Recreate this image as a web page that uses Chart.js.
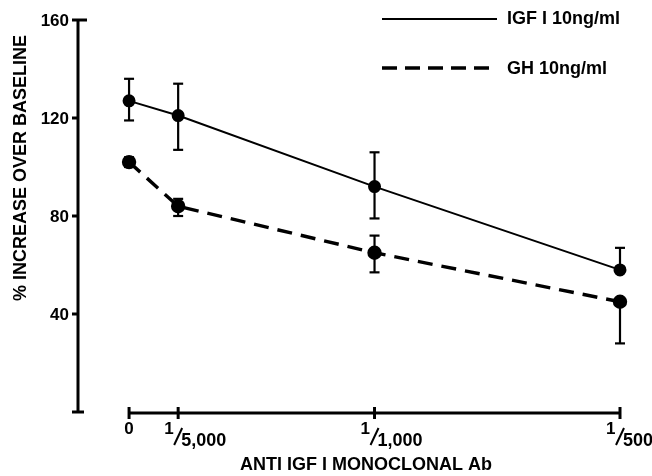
<!DOCTYPE html>
<html>
<head>
<meta charset="utf-8">
<script src="https://cdn.jsdelivr.net/npm/chart.js@4"></script>
<style>
    body { margin: 0; background: #fff; }
    canvas { display: block; }
</style>
</head>
<body>
<canvas id="grafico" width="652" height="476"></canvas>
<script>
// ==================== DATA ====================

const doses = [0, 1 / 5000, 1 / 1000, 1 / 500];
const doseLabels = ['0', '1/5,000', '1/1,000', '1/500'];

const igfMean = [127, 121, 92, 58];
const igfHigh = [136, 134, 106, 67];
const igfLow  = [119, 107, 79, 58];

const ghMean = [102, 84, 65, 45];
const ghHigh = [104, 87, 72, 45];
const ghLow  = [100, 80, 57, 28];

const yTicks = [40, 80, 120, 160];

const seriesNames = ['IGF I 10ng/ml', 'GH 10ng/ml'];
const xTitle = 'ANTI IGF I MONOCLONAL Ab';
const yTitle = '% INCREASE OVER BASELINE';

// ==================== HELPERS ====================

const FONT = '"Liberation Sans", Arial, sans-serif';

function pontos(valores) {
    return doses.map((d, i) => ({ x: d, y: valores[i] }));
}

function linha(ctx, x1, y1, x2, y2) {
    ctx.beginPath();
    ctx.moveTo(x1, y1);
    ctx.lineTo(x2, y2);
    ctx.stroke();
}

// error bars, drawn from the low/high arrays
const errorBars = {
    id: 'errorBars',
    beforeDatasetsDraw(chart) {
        const ctx = chart.ctx;
        const xs = chart.scales.x;
        const ys = chart.scales.y;
        ctx.save();
        ctx.strokeStyle = '#000';
        ctx.lineWidth = 2.2;
        [[igfMean, igfLow, igfHigh], [ghMean, ghLow, ghHigh]].forEach(([mean, low, high]) => {
            doses.forEach((d, i) => {
                const px = xs.getPixelForValue(d);
                const top = ys.getPixelForValue(high[i]);
                const bot = ys.getPixelForValue(low[i]);
                if (top === bot) return;
                linha(ctx, px, top, px, bot);
                if (high[i] > mean[i]) linha(ctx, px - 5, top, px + 5, top);
                if (low[i] < mean[i]) linha(ctx, px - 5, bot, px + 5, bot);
            });
        });
        ctx.restore();
    }
};

// axes, tick labels, titles and legend
const axesDraw = {
    id: 'axesDraw',
    afterDraw(chart) {
        const ctx = chart.ctx;
        const xs = chart.scales.x;
        const ys = chart.scales.y;
        const ax = chart.chartArea.left;
        ctx.save();
        ctx.strokeStyle = '#000';
        ctx.fillStyle = '#000';
        ctx.lineWidth = 3;

        // y axis
        const yTop = ys.getPixelForValue(160);
        const yBot = ys.getPixelForValue(0);
        linha(ctx, ax, yTop - 1, ax, yBot + 1);
        linha(ctx, ax - 6, yBot, ax + 6, yBot);
        ctx.font = 'bold 17px ' + FONT;
        ctx.textAlign = 'right';
        ctx.textBaseline = 'middle';
        yTicks.forEach(v => {
            const py = ys.getPixelForValue(v);
            linha(ctx, ax - 6, py, v === 160 ? ax + 9 : ax, py);
            ctx.fillText(String(v), ax - 9, py + 1);
        });

        // x axis
        const xAxisY = yBot + 1;
        linha(ctx, xs.getPixelForValue(doses[0]), xAxisY, xs.getPixelForValue(doses[doses.length - 1]), xAxisY);
        doses.forEach((d, i) => {
            const px = xs.getPixelForValue(d);
            ctx.lineWidth = 3;
            linha(ctx, px, xAxisY - 6, px, xAxisY + 6);
            const partes = doseLabels[i].split('/');
            ctx.textBaseline = 'alphabetic';
            if (partes.length === 1) {
                ctx.font = 'bold 17px ' + FONT;
                ctx.textAlign = 'center';
                ctx.fillText(partes[0], px, 434);
            } else {
                // superscript numerator, slanted bar, subscript denominator
                ctx.font = 'bold 17px ' + FONT;
                ctx.textAlign = 'left';
                ctx.fillText(partes[0], px - 14, 434);
                ctx.lineWidth = 2;
                linha(ctx, px - 4, 445, px + 4, 428);
                ctx.font = 'bold 18px ' + FONT;
                ctx.fillText(partes[1], px + 3, 446);
            }
        });

        // axis titles
        ctx.font = 'bold 18px ' + FONT;
        ctx.textAlign = 'center';
        ctx.textBaseline = 'middle';
        ctx.fillText(xTitle, 366, 465);
        ctx.save();
        ctx.translate(21, 168);
        ctx.rotate(-Math.PI / 2);
        ctx.fillText(yTitle, 0, 0);
        ctx.restore();

        // legend
        ctx.lineWidth = 1.8;
        linha(ctx, 382, 19, 497, 19);
        ctx.lineWidth = 3.4;
        ctx.setLineDash([15, 8]);
        linha(ctx, 382, 68, 497, 68);
        ctx.setLineDash([]);
        ctx.font = 'bold 18px ' + FONT;
        ctx.textAlign = 'left';
        ctx.fillText(seriesNames[0], 507, 19);
        ctx.fillText(seriesNames[1], 507, 69);

        ctx.restore();
    }
};

// ==================== CHART ====================

new Chart(document.getElementById('grafico'), {
    type: 'line',
    data: {
        datasets: [{
            label: seriesNames[0],
            data: pontos(igfMean),
            borderColor: '#000',
            borderWidth: 2,
            pointRadius: 5.5,
            pointBackgroundColor: '#000',
            pointBorderColor: '#000',
            tension: 0,
            clip: false
        }, {
            label: seriesNames[1],
            data: pontos(ghMean),
            borderColor: '#000',
            borderWidth: 3.4,
            borderDash: [15, 9],
            pointRadius: 5.5,
            pointBackgroundColor: '#000',
            pointBorderColor: '#000',
            tension: 0,
            clip: false
        }]
    },
    options: {
        responsive: false,
        animation: false,
        layout: { padding: { left: 78, right: 32, top: 20, bottom: 64 } },
        plugins: { legend: { display: false }, tooltip: { enabled: false } },
        scales: {
            x: { type: 'linear', min: -0.000208, max: 0.002, display: false },
            y: { type: 'linear', min: 0, max: 160, display: false }
        }
    },
    plugins: [errorBars, axesDraw]
});
</script>
</body>
</html>
